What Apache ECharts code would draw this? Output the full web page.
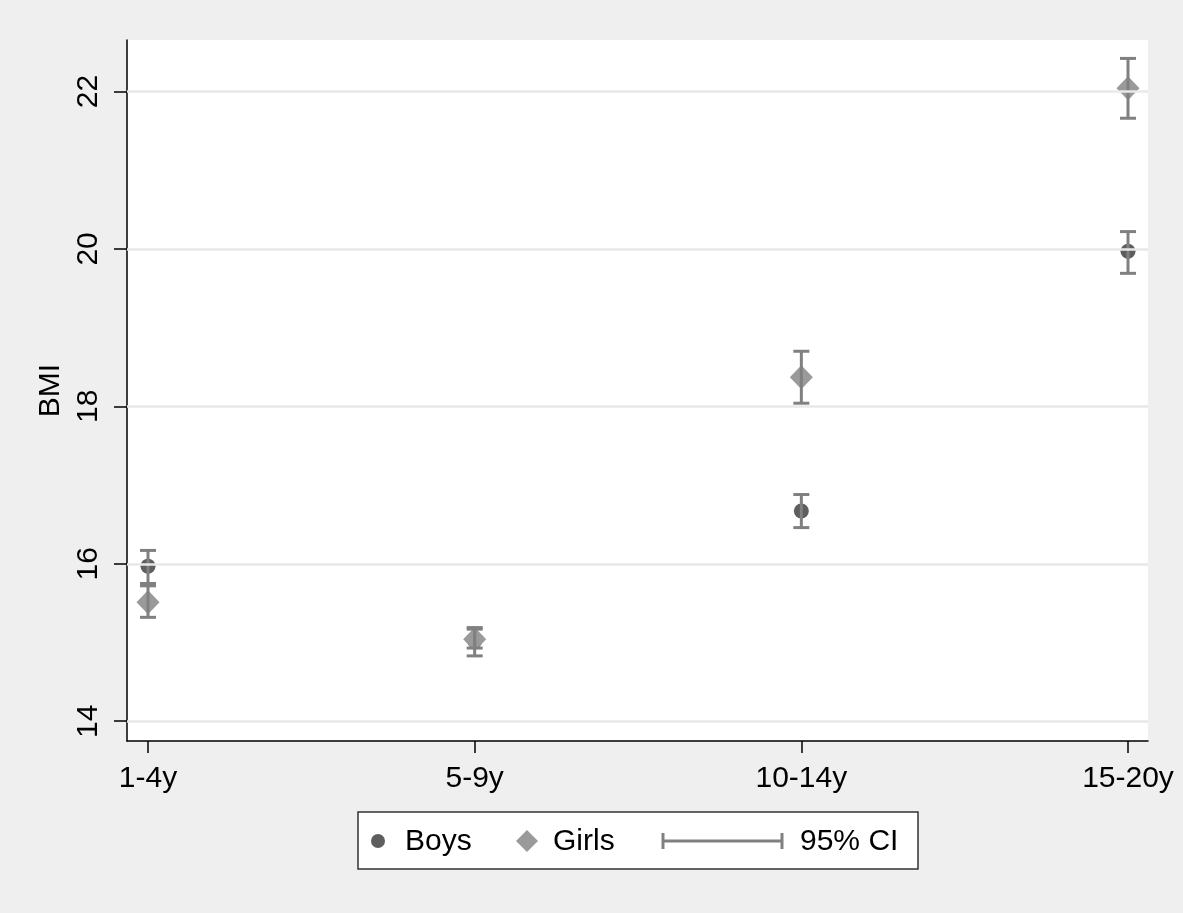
<!DOCTYPE html>
<html>
<head>
<meta charset="utf-8">
<script src="https://cdn.jsdelivr.net/npm/echarts@6/dist/echarts.min.js"></script>
<style>
html,body{margin:0;padding:0;background:#efefef;}
#chart{width:1183px;height:913px;}
</style>
</head>
<body>
<div id="chart"></div>
<script>
const categories = ['1-4y', '5-9y', '10-14y', '15-20y'];
const yTicks = [14, 16, 18, 20, 22];
const boysMean = [15.97, 15.02, 16.67, 19.97];
const boysLow  = [15.75, 14.93, 16.46, 19.69];
const boysHigh = [16.17, 15.17, 16.88, 20.22];
const girlsMean = [15.51, 15.04, 18.37, 22.04];
const girlsLow  = [15.32, 14.83, 18.04, 21.66];
const girlsHigh = [15.72, 15.19, 18.70, 22.42];

const FONT = '"Liberation Sans", Arial, Helvetica, sans-serif';
const boysColor = '#5e5e5e';
const girlsColor = '#9a9a9a';
const ciColor = '#808080';

const chart = echarts.init(document.getElementById('chart'));

const xIdx = categories.map((c, i) => i);
const boysData = xIdx.map(i => [i, boysMean[i]]);
const girlsData = xIdx.map(i => [i, girlsMean[i]]);
const ciData = [];
xIdx.forEach(i => { ciData.push([i, boysLow[i], boysHigh[i]]); });
xIdx.forEach(i => { ciData.push([i, girlsLow[i], girlsHigh[i]]); });

function renderCI(params, api) {
  const x = api.value(0);
  const lo = api.coord([x, api.value(1)]);
  const hi = api.coord([x, api.value(2)]);
  const hw = 8;
  const style = { stroke: ciColor, lineWidth: 3, fill: null };
  return {
    type: 'group',
    children: [
      { type: 'line', shape: { x1: lo[0], y1: lo[1], x2: hi[0], y2: hi[1] }, style: style },
      { type: 'line', shape: { x1: lo[0] - hw, y1: lo[1], x2: lo[0] + hw, y2: lo[1] }, style: style },
      { type: 'line', shape: { x1: hi[0] - hw, y1: hi[1], x2: hi[0] + hw, y2: hi[1] }, style: style }
    ]
  };
}

const legendY = 841;
const option = {
  backgroundColor: '#efefef',
  animation: false,
  textStyle: { fontFamily: FONT },
  grid: {
    left: 127, right: 35, top: 40, bottom: 172,
    show: true, backgroundColor: '#ffffff', borderWidth: 0
  },
  xAxis: {
    type: 'value',
    min: -0.0643, max: 3.0612,
    axisLine: { show: true, onZero: false, lineStyle: { color: '#000', width: 1.5 } },
    axisTick: { show: true, length: 12, customValues: xIdx, lineStyle: { color: '#000', width: 1.5 } },
    axisLabel: {
      customValues: xIdx, fontSize: 30, color: '#000', fontFamily: FONT, margin: 23,
      formatter: v => categories[Math.round(v)]
    },
    splitLine: { show: false }
  },
  yAxis: {
    type: 'value',
    min: 13.749, max: 22.654,
    name: 'BMI', nameLocation: 'middle', nameRotate: 90, nameGap: 48,
    nameTextStyle: { fontSize: 30, color: '#000', fontFamily: FONT },
    axisLine: { show: true, onZero: false, lineStyle: { color: '#000', width: 1.5 } },
    axisTick: { show: true, length: 13, customValues: yTicks, lineStyle: { color: '#000', width: 1.5 } },
    axisLabel: {
      customValues: yTicks, fontSize: 30, color: '#000', fontFamily: FONT, rotate: 90, margin: 23
    },
    splitLine: { show: false }
  },
  series: [
    {
      type: 'line', data: [], z: 1, silent: true,
      markLine: {
        silent: true, symbol: 'none', label: { show: false },
        lineStyle: { color: '#e8e8e8', width: 2.5, type: 'solid' },
        data: yTicks.map(v => ({ yAxis: v }))
      }
    },
    {
      name: 'Boys', type: 'scatter', data: boysData, z: 2,
      symbol: 'circle', symbolSize: 15, itemStyle: { color: boysColor, opacity: 1 }
    },
    {
      name: 'Girls', type: 'scatter', data: girlsData, z: 3,
      symbol: 'diamond', symbolSize: [23, 24], itemStyle: { color: girlsColor, opacity: 1 }
    },
    {
      name: '95% CI', type: 'custom', data: ciData, z: 4,
      renderItem: renderCI, encode: { x: 0, y: [1, 2] }
    }
  ],
  graphic: [
    { type: 'rect', shape: { x: 358, y: 812, width: 560, height: 57 },
      style: { fill: '#fff', stroke: '#333', lineWidth: 1.5 }, z: 10 },
    { type: 'circle', shape: { cx: 378, cy: legendY, r: 7 }, style: { fill: boysColor }, z: 11 },
    { type: 'text', x: 405, y: legendY + 1, style: { text: 'Boys', font: '30px ' + FONT, fill: '#000', verticalAlign: 'middle' }, z: 11 },
    { type: 'polygon', shape: { points: [[527, legendY - 11], [538, legendY], [527, legendY + 11], [516, legendY]] }, style: { fill: girlsColor }, z: 11 },
    { type: 'text', x: 553, y: legendY + 1, style: { text: 'Girls', font: '30px ' + FONT, fill: '#000', verticalAlign: 'middle' }, z: 11 },
    { type: 'polyline', shape: { points: [[663, legendY], [782, legendY]] }, style: { stroke: ciColor, lineWidth: 3 }, z: 11 },
    { type: 'polyline', shape: { points: [[663, legendY - 8], [663, legendY + 8]] }, style: { stroke: ciColor, lineWidth: 3 }, z: 11 },
    { type: 'polyline', shape: { points: [[782, legendY - 8], [782, legendY + 8]] }, style: { stroke: ciColor, lineWidth: 3 }, z: 11 },
    { type: 'text', x: 800, y: legendY + 1, style: { text: '95% CI', font: '30px ' + FONT, fill: '#000', verticalAlign: 'middle' }, z: 11 }
  ]
};
chart.setOption(option);
</script>
</body>
</html>
